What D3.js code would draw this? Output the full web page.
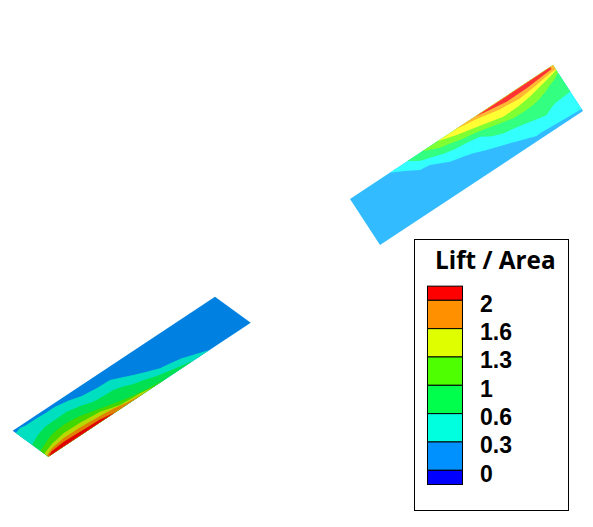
<!DOCTYPE html>
<html><head><meta charset="utf-8">
<script src="https://cdn.jsdelivr.net/npm/d3@7"></script>
<style>html,body{margin:0;background:#fff}svg{display:block}</style></head>
<body><svg id="c" width="593" height="527"></svg>
<script>
// Contour boundaries: [span fraction, chord fraction] on each wing surface
const upperLevel03 = [[0,0],[.195,0],[.25,.12],[.306,.261],[.352,.286],[.428,.436],[.485,.494],[.527,.543],[.581,.626],[.69,.777],[.703,.8],[.784,.915],[.802,.908],[1,.956],[1,0]];
const upperLevel06 = [[.281,0],[.33,.13],[.382,.193],[.43,.26],[.481,.3],[.54,.325],[.588,.357],[.63,.47],[.675,.54],[.73,.58],[.778,.622],[.83,.67],[.866,.696],[.895,.64],[.921,.603],[.96,.59],[1,.576],[1,0]];
const upperLevel10 = [[.357,0],[.425,.123],[.47,.16],[.511,.207],[.56,.24],[.6,.271],[.68,.35],[.744,.413],[.8,.42],[.842,.411],[.88,.376],[.915,.33],[.945,.274],[.97,.24],[1,.17],[1,0]];
const upperLevel13 = [[.431,0],[.511,.097],[.612,.19],[.713,.287],[.79,.28],[.85,.25],[.963,.147],[1,.106],[1,0]];
const upperLevel16 = [[.514,0],[.616,.055],[.714,.14],[.811,.176],[.9,.14],[.971,.097],[1,.09],[1,0]];
const upperLevel20 = [[.619,.01],[.758,.092],[.857,.09],[.986,.047],[.985,.005]];
const lowerLevel03 = [[.204,0],[.25,.09],[.305,.202],[.35,.25],[.397,.29],[.44,.39],[.49,.511],[.53,.62],[.568,.722],[.63,.735],[.698,.778],[.75,.86],[.805,.919],[.85,.915],[.894,.928],[.95,.93],[.97,.96],[1,.915],[1,0]];
const lowerLevel06 = [[.283,0],[.366,.092],[.433,.18],[.48,.27],[.522,.33],[.56,.42],[.595,.476],[.64,.485],[.688,.508],[.74,.6],[.793,.662],[.85,.655],[.902,.649],[.95,.58],[1,.458],[1,0]];
const lowerLevel10 = [[.419,0],[.506,.045],[.59,.13],[.64,.2],[.682,.26],[.774,.397],[.815,.43],[.849,.438],[.89,.425],[.925,.381],[.96,.31],[1,.223],[1,0]];
const lowerLevel13 = [[.475,0],[.538,.053],[.631,.085],[.706,.217],[.797,.263],[.878,.27],[.946,.211],[1,.112],[1,0]];
const lowerLevel16 = [[.525,0],[.605,.043],[.661,.1],[.722,.13],[.814,.169],[.896,.169],[.962,.123],[1,.042],[1,0]];
const lowerLevel20 = [[.669,.005],[.734,.063],[.829,.081],[.909,.095],[.972,.063],[.994,.018],[.99,0]];
const fullSurface = [[0,0],[1,0],[1,1],[0,1]];

const upperColors = ["#33bbff","#33ffff","#33ff80","#80ff33","#ffff33","#ffb833","#ff3333"];
const lowerColors = ["#0080e0","#00e0c0","#00e050","#40d800","#b8d800","#e08000","#e00000"];
const legendLabels = ["2","1.6","1.3","1","0.6","0.3","0"];
const legendColors = ["#ff0000","#ff9100","#dfff00","#4dff00","#00ff4d","#00ffdf","#0091ff","#0000ff"];

const svg = d3.select("#c");
const upperPlacement = {o:[350,199], span:[203,-134], chord:[30,46]};
const lowerPlacement = {o:[250.7,322.7], span:[-202.3,134], chord:[-35.7,-26]};

function drawWing(place, levels, colors){
  const sx = d3.scaleLinear([0,1],[0,place.span[0]]), sy = d3.scaleLinear([0,1],[0,place.span[1]]);
  const cx = d3.scaleLinear([0,1],[0,place.chord[0]]), cy = d3.scaleLinear([0,1],[0,place.chord[1]]);
  const line = d3.line().x(d=>place.o[0]+sx(d[0])+cx(d[1])).y(d=>place.o[1]+sy(d[0])+cy(d[1]));
  svg.append("g").selectAll("path").data(levels).join("path")
    .attr("d",d=>line(d)+"Z").attr("fill",(d,i)=>colors[i]);
}
drawWing(upperPlacement,[fullSurface,upperLevel03,upperLevel06,upperLevel10,upperLevel13,upperLevel16,upperLevel20],upperColors);
drawWing(lowerPlacement,[fullSurface,lowerLevel03,lowerLevel06,lowerLevel10,lowerLevel13,lowerLevel16,lowerLevel20],lowerColors);

// Legend
svg.append("rect").attr("x",414.5).attr("y",239.5).attr("width",154).attr("height",271)
  .attr("fill","#fff").attr("stroke","#000").attr("stroke-width",1);
svg.append("text").attr("x",435).attr("y",269).text("Lift / Area")
  .attr("font-family","'Open Sans',sans-serif").attr("font-weight",700).attr("font-size",24.3).attr("fill","#000");
const ly = d3.scalePoint().domain(legendLabels).range([300.3,470.3]);
const step = ly.step();
const bandTop = i => i===0 ? ly(legendLabels[0])-step/2 : ly(legendLabels[i-1]);
const bandBot = i => i===legendColors.length-1 ? ly(legendLabels[i-1])+step/2 : ly(legendLabels[i]);
svg.append("g").selectAll("rect").data(legendColors).join("rect")
  .attr("x",427.5).attr("width",35).attr("y",(d,i)=>bandTop(i)).attr("height",(d,i)=>bandBot(i)-bandTop(i))
  .attr("fill",d=>d).attr("stroke","#000").attr("stroke-width",1);
svg.append("g").selectAll("text").data(legendLabels).join("text")
  .attr("x",480).attr("y",d=>ly(d)+11.5).text(d=>d)
  .attr("font-family","'Liberation Sans',Arial,sans-serif").attr("font-weight",700).attr("font-size",23).attr("fill","#000");
</script></body></html>
